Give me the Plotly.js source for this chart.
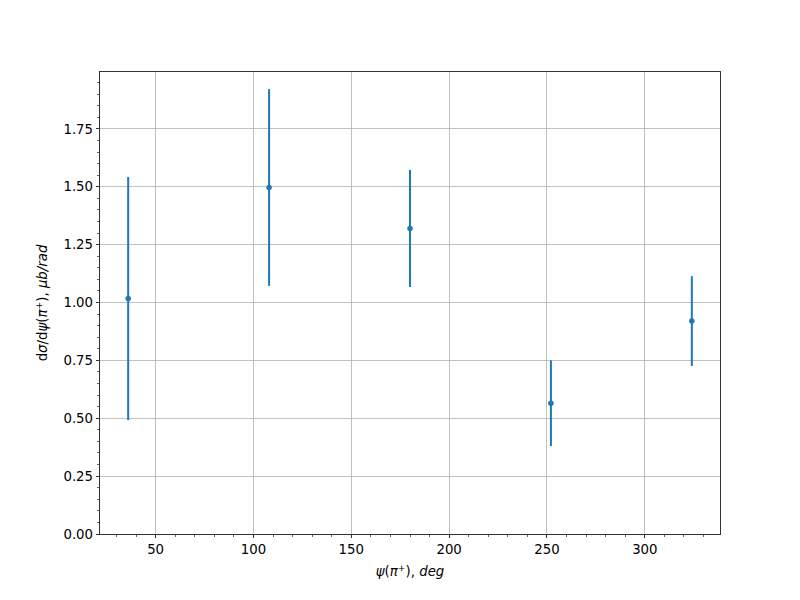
<!DOCTYPE html>
<html>
<head>
<meta charset="utf-8">
<script src="https://cdn.plot.ly/plotly-3.0.1.min.js"></script>
<style>html,body{margin:0;padding:0;background:#fff;}#chart{width:800px;height:600px;}</style>
</head>
<body>
<div id="chart"></div>
<script>
const psiDeg = [36, 108, 180, 252, 324];
const dSigma = [1.017, 1.497, 1.320, 0.565, 0.920];
const dSigmaErr = [0.525, 0.425, 0.253, 0.185, 0.194];

const trace = {
  x: psiDeg,
  y: dSigma,
  type: 'scatter',
  mode: 'markers',
  marker: {color: '#1f77b4', size: 5.5},
  error_y: {type: 'data', array: dSigmaErr, visible: true, color: '#1f77b4', thickness: 2, width: 0},
  showlegend: false
};

const font = {family: 'DejaVu Sans, sans-serif', size: 13.3, color: '#000'};

const layout = {
  width: 800, height: 600,
  paper_bgcolor: '#fff', plot_bgcolor: '#fff',
  margin: {l: 100, r: 80, t: 72, b: 66},
  font: font,
  xaxis: {
    range: [21.6, 338.4],
    tick0: 0, dtick: 50,
    ticks: 'outside', ticklen: 3.5, tickwidth: 0.8, tickcolor: '#000',
    showline: true, linecolor: '#000', linewidth: 0.8, mirror: true,
    showgrid: true, gridcolor: '#b0b0b0', gridwidth: 0.8,
    zeroline: false,
    minor: {dtick: 10, ticks: 'outside', ticklen: 2, tickwidth: 0.6, tickcolor: '#000', showgrid: false},
    title: {text: '<i>ψ</i>(<i>π</i><sup>+</sup>), <i>deg</i>', font: font, standoff: 10}
  },
  yaxis: {
    range: [0, 1.996],
    tick0: 0, dtick: 0.25, tickformat: '.2f',
    ticks: 'outside', ticklen: 3.5, tickwidth: 0.8, tickcolor: '#000',
    showline: true, linecolor: '#000', linewidth: 0.8, mirror: true,
    showgrid: true, gridcolor: '#b0b0b0', gridwidth: 0.8,
    zeroline: false,
    minor: {dtick: 0.05, ticks: 'outside', ticklen: 2, tickwidth: 0.6, tickcolor: '#000', showgrid: false},
    title: {text: 'd<i>σ</i>/d<i>ψ</i>(<i>π</i><sup>+</sup>), <i>μb/rad</i>', font: font, standoff: 12}
  }
};

Plotly.newPlot('chart', [trace], layout, {displayModeBar: false, staticPlot: true});
</script>
</body>
</html>
